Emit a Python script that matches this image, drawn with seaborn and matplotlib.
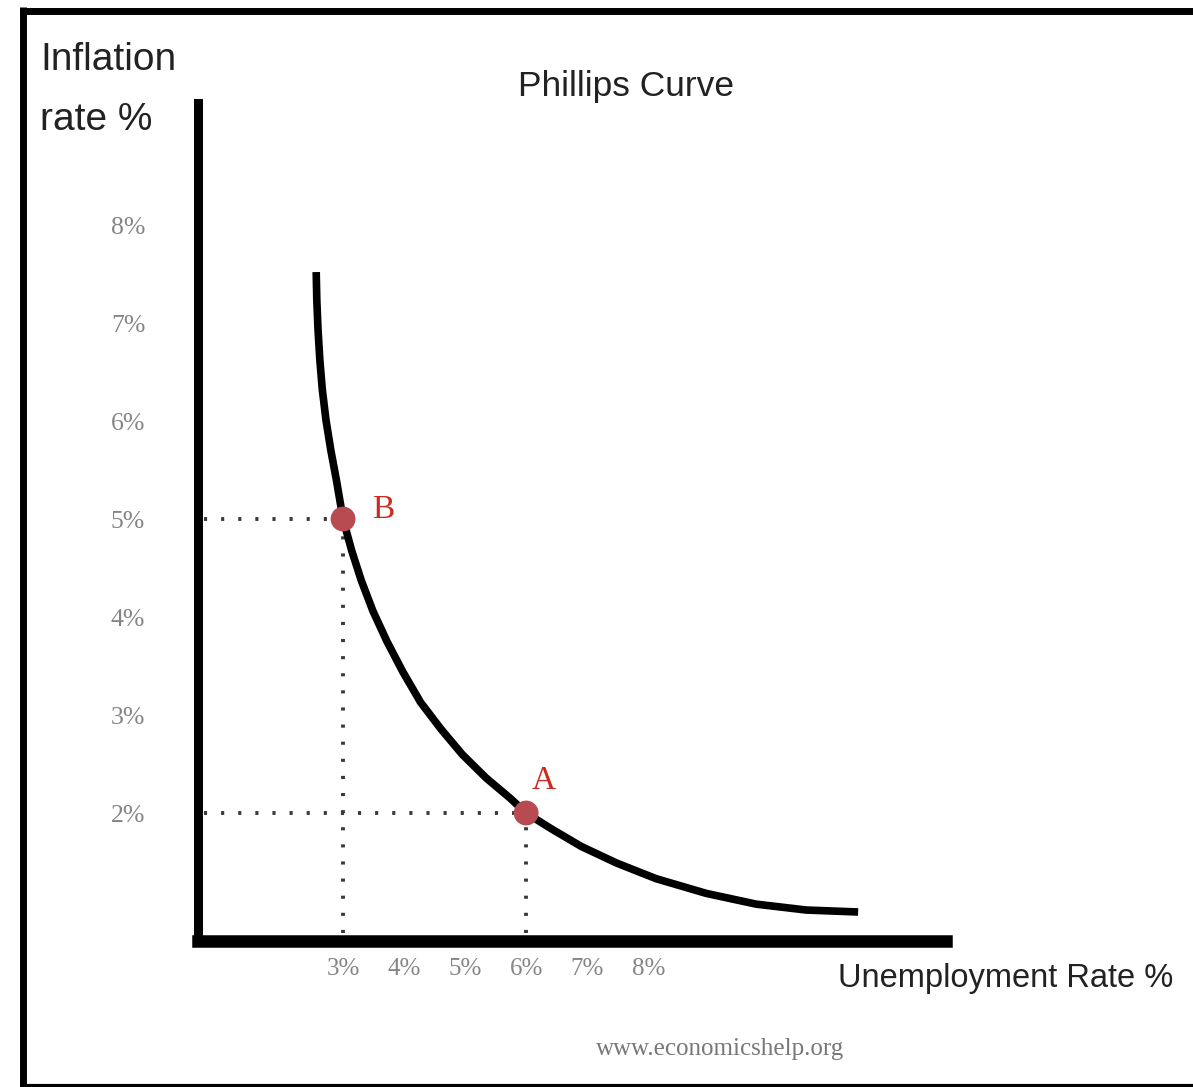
import matplotlib
matplotlib.use("Agg")
import matplotlib.pyplot as plt
from matplotlib.lines import Line2D
import pandas as pd
import seaborn as sns

# Phillips curve: unemployment rate (%) against inflation rate (%)
curve_unemployment = [2.56, 2.57, 2.59, 2.62, 2.66, 2.72, 2.80, 2.89, 3.00,
                      3.14, 3.30, 3.49, 3.72, 3.98, 4.27, 4.60, 4.95, 5.34,
                      5.74, 6.00, 6.41, 6.90, 7.48, 8.13, 8.95, 9.77, 10.59,
                      11.44]
curve_inflation = [7.52, 7.23, 6.93, 6.62, 6.32, 6.01, 5.70, 5.40, 5.00,
                   4.68, 4.37, 4.06, 3.75, 3.44, 3.13, 2.86, 2.60, 2.36,
                   2.15, 2.00, 1.84, 1.66, 1.49, 1.33, 1.18, 1.07, 1.01,
                   0.99]

# Marked points on the curve
point_labels = ["B", "A"]
point_unemployment = [3, 6]
point_inflation = [5, 2]

x_ticks = [3, 4, 5, 6, 7, 8]
y_ticks = [2, 3, 4, 5, 6, 7, 8]
x_tick_labels = [f"{v}%" for v in x_ticks]
y_tick_labels = [f"{v}%" for v in y_ticks]

sns.set_theme(style="white")
plt.rcParams["font.family"] = ["Liberation Sans", "DejaVu Sans"]

W, H = 1193, 1087
fig = plt.figure(figsize=(W / 100, H / 100), dpi=100)
fig.patch.set_facecolor("white")


def fx(px):
    return px / W


def fy(py):
    return 1 - py / H


ax = fig.add_axes([fx(198), fy(941), fx(946) - fx(198), fy(103) - fy(941)])
ax.set_facecolor("white")
xlim = (0.623, 12.88)
ylim = (0.694, 9.245)
ax.set_xlim(*xlim)
ax.set_ylim(*ylim)

curve = pd.DataFrame({"u": curve_unemployment, "inf": curve_inflation})
sns.lineplot(data=curve, x="u", y="inf", sort=False, color="black",
             linewidth=5.5, ax=ax, zorder=3)
ax.lines[-1].set_solid_capstyle("butt")
ax.lines[-1].set_solid_joinstyle("round")

# dotted guides from each point to both axes
for u, inf in zip(point_unemployment, point_inflation):
    ax.plot([xlim[0] + 0.1, u], [inf, inf], color="#3a3a3a", lw=2.8,
            linestyle=(0, (0.8, 3.6)), zorder=2)
    ax.plot([u, u], [ylim[0] + 0.08, inf], color="#3a3a3a", lw=2.8,
            linestyle=(0, (0.8, 3.6)), zorder=2)

pts = pd.DataFrame({"u": point_unemployment, "inf": point_inflation,
                    "label": point_labels})
sns.scatterplot(data=pts, x="u", y="inf", color="#b84a52", s=320,
                edgecolor="none", ax=ax, zorder=4)
label_offsets = {"B": (21, -4), "A": (4, 12)}
for lab, u, inf in zip(point_labels, point_unemployment, point_inflation):
    ax.annotate(lab, (u, inf), xytext=label_offsets[lab],
                textcoords="offset points", color="#cc2a1e", fontsize=24,
                family="Liberation Serif", ha="left", va="bottom")

ax.set_xticks(x_ticks, x_tick_labels)
ax.set_yticks(y_ticks, y_tick_labels)
ax.tick_params(axis="both", length=0, colors="#858585")
ax.tick_params(axis="x", pad=12, labelsize=18)
ax.tick_params(axis="y", pad=38, labelsize=18.5)
for t in ax.get_xticklabels() + ax.get_yticklabels():
    t.set_family("Liberation Serif")
ax.set_xlabel("")
ax.set_ylabel("")

for side in ("top", "right"):
    ax.spines[side].set_visible(False)
ax.spines["left"].set_linewidth(6.5)
ax.spines["bottom"].set_linewidth(9)
ax.spines["left"].set_color("black")
ax.spines["bottom"].set_color("black")

# titles and axis captions
fig.text(fx(626), fy(96), "Phillips Curve", ha="center", va="baseline",
         fontsize=25.5, color="#222222")
fig.text(fx(40), fy(70), "Inflation", ha="left", va="baseline",
         fontsize=28, color="#222222")
fig.text(fx(40), fy(130), "rate %", ha="left", va="baseline",
         fontsize=28, color="#222222")
fig.text(fx(838), fy(987), "Unemployment Rate %", ha="left", va="baseline",
         fontsize=23.5, color="#222222")
fig.text(fx(720), fy(1055), "www.economicshelp.org", ha="center",
         va="baseline", fontsize=18, color="#777777", family="Liberation Serif")

# outer frame
fig.add_artist(Line2D([fx(23), fx(23)], [fy(1087), fy(7)], color="black",
                      lw=5, solid_capstyle="butt"))
fig.add_artist(Line2D([fx(20), fx(1193)], [fy(10.5), fy(10.5)], color="black",
                      lw=5, solid_capstyle="butt"))
fig.add_artist(Line2D([fx(20), fx(1193)], [fy(1085.5), fy(1085.5)],
                      color="black", lw=3, solid_capstyle="butt"))

fig.savefig("out.png", dpi=100, facecolor="white")
